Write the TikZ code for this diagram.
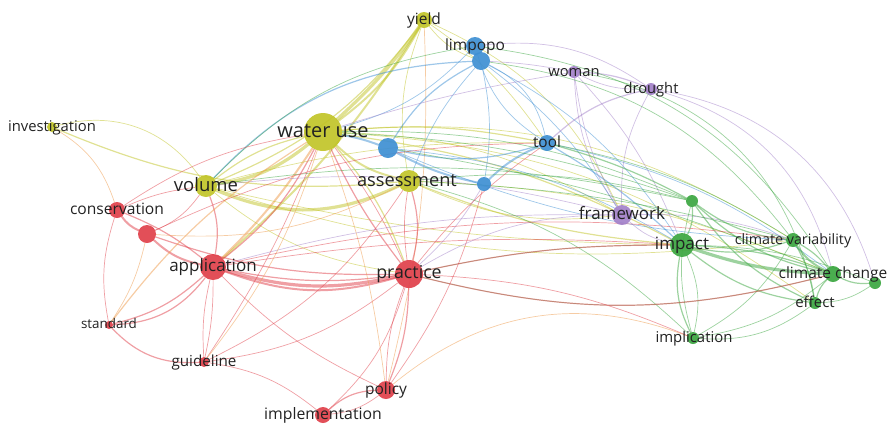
\documentclass[tikz,border=0pt]{standalone}
\usepackage{fontspec}
\setmainfont{Open Sans}
\pgfdeclarelayer{links}
\pgfsetlayers{links,main}
\definecolor{cy}{HTML}{C1C428}
\definecolor{cb}{HTML}{3E8FD3}
\definecolor{cr}{HTML}{E0404A}
\definecolor{cg}{HTML}{3BA640}
\definecolor{cp}{HTML}{A381C9}
\definecolor{co}{HTML}{EE9A4A}
\definecolor{lbltext}{HTML}{222222}
% label centred on a node, baseline set by the x-height
\newcommand\lb[4][0]{\node[lbl,anchor=base,font=\fontsize{#3}{#3}\selectfont]
  at ([xshift=#1pt,yshift=-0.28*#3pt]#2.center) {#4};}
\begin{document}
\begin{tikzpicture}[x=1pt,y=-1pt,
  dot/.style={circle,inner sep=0pt,draw=none,fill opacity=.92},
  lbl/.style={text=lbltext,inner sep=0pt},
  lk/.style={line cap=round,draw opacity=.5,bend right=15},
  ly/.style={lk,draw=cy},
  lb/.style={lk,draw=cb},
  lr/.style={lk,draw=cr},
  lg/.style={lk,draw=cg},
  lp/.style={lk,draw=cp},
  lo/.style={lk,draw=co},
  w1/.style={line width=.7pt},
  w2/.style={line width=1.2pt},
  w3/.style={line width=2pt},
  w4/.style={line width=3.2pt}]
\useasboundingbox (0,0) rectangle (889,424);

% ---- nodes ----
\node[dot,fill=cy,minimum size=38pt] (W)  at (323,132) {};
\node[dot,fill=cy,minimum size=16pt] (Y)  at (424,20)  {};
\node[dot,fill=cb,minimum size=18pt] (L1) at (475,46)  {};
\node[dot,fill=cb,minimum size=18pt] (L2) at (481,61)  {};
\node[dot,fill=cp,minimum size=12pt] (WO) at (574,72)  {};
\node[dot,fill=cp,minimum size=12pt] (DR) at (651,89)  {};
\node[dot,fill=cy,minimum size=10pt] (IN) at (52,127)  {};
\node[dot,fill=cb,minimum size=20pt] (B3) at (388,148) {};
\node[dot,fill=cb,minimum size=16pt] (TO) at (547,143) {};
\node[dot,fill=cy,minimum size=22pt] (AS) at (409,181) {};
\node[dot,fill=cb,minimum size=14pt] (B5) at (484,184) {};
\node[dot,fill=cy,minimum size=22pt] (VO) at (206,186) {};
\node[dot,fill=cr,minimum size=16pt] (CO) at (117,210) {};
\node[dot,fill=cr,minimum size=18pt] (R2) at (147,234) {};
\node[dot,fill=cp,minimum size=20pt] (FR) at (622,215) {};
\node[dot,fill=cg,minimum size=12pt] (G1) at (692,201) {};
\node[dot,fill=cg,minimum size=24pt] (IM) at (682,245) {};
\node[dot,fill=cg,minimum size=14pt] (CV) at (793,240) {};
\node[dot,fill=cg,minimum size=16pt] (CC) at (833,274) {};
\node[dot,fill=cg,minimum size=12pt] (G2) at (875,283) {};
\node[dot,fill=cg,minimum size=12pt] (EF) at (815,303) {};
\node[dot,fill=cr,minimum size=26pt] (AP) at (213,267) {};
\node[dot,fill=cr,minimum size=28pt] (PR) at (409,274) {};
\node[dot,fill=cr,minimum size=8pt]  (ST) at (109,325) {};
\node[dot,fill=cr,minimum size=10pt] (GU) at (204,362) {};
\node[dot,fill=cg,minimum size=12pt] (IP) at (693,338) {};
\node[dot,fill=cr,minimum size=18pt] (PO) at (386,390) {};
\node[dot,fill=cr,minimum size=16pt] (IT) at (323,415) {};

% ---- links ----
\begin{pgfonlayer}{links}
% yellow cluster
\draw[ly,w4,bend right=6] (W) to (Y);
\draw[ly,w3,bend right=12] (W) to (Y);
\draw[ly,w3,bend right=8] (AP) to (Y);
\draw[ly,w2] (VO) to (Y);
\draw[ly,w4] (VO) to (W);
\draw[ly,w2,bend left=12] (VO) to (W);
\draw[ly,w4,bend left=24] (AS) to (VO);
\draw[ly,w3] (W) to (AS);
\draw[lo,w3,bend right=6] (AP) to (W);
\draw[ly,w2,bend left=10] (W) to (PR);
\draw[ly,w1] (Y) to (AS);
\draw[lo,w1,bend left=8] (Y) to (PO);
\draw[ly,w2,bend right=14] (IN) to (AS);
\draw[ly,w1,bend left=35] (IN) to (VO);
\draw[ly,w2,bend left=8] (W) to (TO);
\draw[ly,w1,bend left=14] (W) to (FR);
\draw[ly,w2,bend left=10] (W) to (IM);
\draw[ly,w1,bend left=18] (W) to (CV);
\draw[ly,w2,bend right=8] (AS) to (IM);
\draw[ly,w1,bend left=10] (AS) to (CC);
\draw[ly,w1] (VO) to (PR);
\draw[ly,w1,bend left=8] (VO) to (TO);
\draw[ly,w1,bend left=16] (W) to (EF);
\draw[ly,w1] (AS) to (FR);
\draw[ly,w1,bend right=6] (VO) to (IM);
\draw[ly,w1] (Y) to (L2);
\draw[ly,w1,bend left=10] (Y) to (TO);
\draw[ly,w1,bend left=20] (Y) to (FR);
\draw[ly,w1,bend right=12] (VO) to (CV);
% blue cluster
\draw[lb,w3,bend right=8] (B3) to (B5);
\draw[lb,w3,bend left=5] (W) to (B3);
\draw[lb,w2] (B3) to (TO);
\draw[lb,w3,bend left=10] (B5) to (TO);
\draw[lb,w2] (L2) to (B3);
\draw[lb,w1,bend left=10] (L2) to (B5);
\draw[lb,w1,bend left=25] (L2) to (TO);
\draw[lb,w2] (L1) to (L2);
\draw[lb,w2,bend left=22] (VO) to (L2);
\draw[lg,w1,bend left=18] (VO) to (L1);
\draw[lb,w1] (W) to (L1);
\draw[lb,w1,bend right=10] (L2) to (AS);
\draw[lb,w2,bend left=6] (TO) to (IM);
\draw[lb,w1,bend left=14] (L2) to (IM);
\draw[lb,w1,bend left=12] (B3) to (IM);
\draw[lb,w1,bend left=12] (TO) to (CC);
\draw[lp,w1,bend left=8] (B5) to (PR);
\draw[lb,w1,bend left=10] (L2) to (FR);
\draw[lb,w1,bend right=20] (L1) to (TO);
\draw[lb,w1,bend right=10] (B3) to (CV);
% purple cluster
\draw[lp,w1,bend left=4] (L2) to (WO);
\draw[lp,w2,bend left=10] (WO) to (DR);
\draw[lp,w1,bend right=14] (WO) to (DR);
\draw[lp,w2] (DR) to (TO);
\draw[lp,w1] (WO) to (FR);
\draw[lp,w1,bend right=10] (WO) to (FR);
\draw[lp,w1] (DR) to (FR);
\draw[lp,w1,bend left=30] (DR) to (CC);
\draw[lp,w1,bend left=32] (DR) to (G2);
\draw[lp,w1,bend left=10] (WO) to (IM);
\draw[lp,w1,bend left=4] (W) to (WO);
\draw[lp,w1,bend left=20] (L1) to (DR);
\draw[lp,w1,bend right=8] (FR) to (AP);
\draw[lp,w1] (FR) to (PR);
\draw[lp,w1,bend left=10] (FR) to (CV);
\draw[lp,w1] (FR) to (IM);
\draw[lp,w1,bend right=10] (FR) to (VO);
% green cluster
\draw[lg,w4,bend right=8] (IM) to (CC);
\draw[lg,w2,bend left=8] (IM) to (CC);
\draw[lg,w2] (IM) to (CV);
\draw[lg,w2] (IM) to (EF);
\draw[lg,w2] (IM) to (G1);
\draw[lg,w2,bend right=18] (IM) to (IP);
\draw[lg,w1,bend left=18] (IM) to (IP);
\draw[lg,w2] (G1) to (CV);
\draw[lg,w2] (G1) to (CC);
\draw[lg,w3] (CV) to (CC);
\draw[lg,w2,bend left=10] (CV) to (CC);
\draw[lg,w2] (CC) to (EF);
\draw[lg,w2] (CC) to (G2);
\draw[lg,w1] (EF) to (G2);
\draw[lg,w1,bend right=20] (IP) to (EF);
\draw[lg,w1] (IP) to (CC);
\draw[lg,w1,bend left=10] (IM) to (G2);
\draw[lg,w2] (G1) to (EF);
\draw[lg,w2,bend left=10] (CV) to (EF);
\draw[lg,w1] (IP) to (CV);
\draw[lg,w1,bend left=15] (IP) to (G1);
\draw[lg,w2,bend left=6] (TO) to (G1);
\draw[lg,w1,bend right=8] (G1) to (W);
\draw[lg,w1,bend left=10] (TO) to (CV);
\draw[lg,w1,bend left=6] (B3) to (CC);
\draw[lg,w1,bend left=14] (AS) to (IP);
\draw[lg,w1,bend left=6] (PR) to (IM);
\draw[lg,w1,bend right=6] (CV) to (AS);
\draw[lg,w1,bend right=10] (G1) to (AS);
\draw[lg,w1,bend left=22] (L2) to (CV);
\draw[lg,w1,bend left=25] (L1) to (CC);
\draw[lg,w1,bend left=10] (VO) to (G1);
\draw[lg,w1,bend left=12] (W) to (G1);
\draw[lg,w1,bend left=14] (CC) to (PR);
\draw[lg,w1,bend left=35] (WO) to (EF);
% red cluster
\draw[lr,w4,bend left=14] (PR) to (AP);
\draw[lr,w3,bend left=18] (PR) to (AP);
\draw[lr,w2,bend left=9] (PR) to (AP);
\draw[lr,w3] (CO) to (R2);
\draw[lr,w3] (R2) to (AP);
\draw[lr,w2,bend left=8] (CO) to (AP);
\draw[lr,w2,bend left=14] (AP) to (ST);
\draw[lr,w2,bend right=25] (ST) to (AP);
\draw[lr,w1,bend right=8] (AP) to (GU);
\draw[lr,w1,bend left=6] (AP) to (GU);
\draw[lr,w2,bend right=25] (ST) to (GU);
\draw[lr,w1,bend left=14] (ST) to (CO);
\draw[lo,w1,bend left=10] (R2) to (ST);
\draw[lr,w1] (GU) to (PR);
\draw[lr,w1,bend right=6] (GU) to (W);
\draw[lo,w1,bend right=10] (GU) to (W);
\draw[lr,w2,bend right=10] (PO) to (PR);
\draw[lr,w1,bend left=10] (PO) to (PR);
\draw[lr,w2,bend left=20] (IT) to (PO);
\draw[lr,w1] (IT) to (PO);
\draw[lr,w1,bend left=10] (PO) to (AP);
\draw[lr,w1,bend left=15] (GU) to (IT);
\draw[lr,w1] (IT) to (PR);
\draw[lr,w2,bend right=6] (IM) to (PR);
\draw[lr,w2,bend left=14] (CC) to (PR);
\draw[lo,w1,bend left=30] (PO) to (IP);
\draw[lr,w2,bend left=6] (PR) to (W);
\draw[lr,w1,bend right=6] (PR) to (W);
\draw[lr,w2] (PR) to (AS);
\draw[lr,w1,bend left=8] (PR) to (AS);
\draw[lr,w2] (AP) to (VO);
\draw[lr,w2,bend right=12] (AP) to (W);
\draw[lr,w1,bend left=12] (CO) to (W);
\draw[lo,w1,bend left=20] (IN) to (CO);
\draw[lr,w1] (R2) to (VO);
\draw[lr,w1,bend left=8] (CO) to (VO);
\draw[lr,w2,bend right=10] (R2) to (PR);
\draw[lr,w1,bend left=6] (AP) to (IM);
\draw[lr,w1,bend left=8] (PR) to (TO);
\draw[lo,w1] (R2) to (AS);
\draw[lo,w2,bend left=10] (ST) to (W);
\draw[lr,w1] (GU) to (AS);
\draw[lo,w1,bend right=6] (PO) to (W);
\draw[lr,w1,bend left=10] (PR) to (IP);
\draw[lr,w1,bend left=10] (AP) to (CV);
\draw[lr,w1,bend left=12] (R2) to (TO);
\draw[lr,w1,bend right=10] (PO) to (B5);
\end{pgfonlayer}

% ---- labels ----
\lb{W}{20}{water use}
\lb{Y}{15.5}{yield}
\lb{L1}{15.5}{limpopo}
\lb{WO}{14.7}{woman}
\lb{DR}{14.7}{drought}
\lb{IN}{14.8}{investigation}
\lb{TO}{15.4}{tool}
\lb[-2]{AS}{18.2}{assessment}
\lb{VO}{18.5}{volume}
\lb{CO}{15.6}{conservation}
\lb{FR}{17}{framework}
\lb{IM}{17}{impact}
\lb{CV}{14.3}{climate variability}
\lb{CC}{15.5}{climate change}
\lb{EF}{15}{effect}
\lb{AP}{17}{application}
\lb{PR}{17.8}{practice}
\lb{ST}{13.4}{standard}
\lb{GU}{15.2}{guideline}
\lb[1]{IP}{14.9}{implication}
\lb{PO}{15.5}{policy}
\lb{IT}{15.8}{implementation}
\end{tikzpicture}
\end{document}
